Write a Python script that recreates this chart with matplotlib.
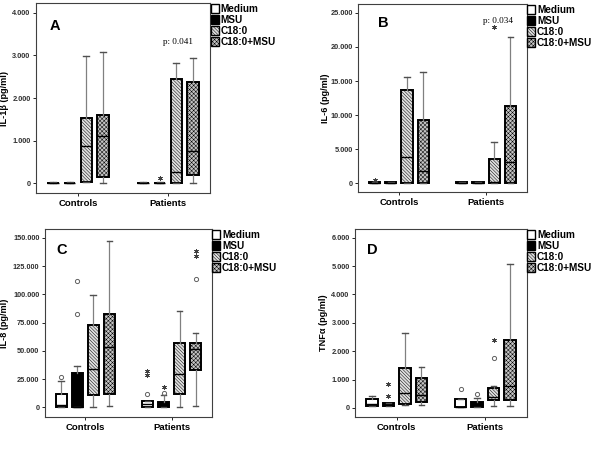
import matplotlib
matplotlib.use("Agg")
import matplotlib.pyplot as plt
import matplotlib.patches as mpatches
from matplotlib.ticker import FuncFormatter

plt.rcParams['font.family'] = ['Liberation Sans', 'DejaVu Sans']
plt.rcParams['hatch.linewidth'] = 0.35

# box order: Controls (Medium, MSU, C18:0, C18:0+MSU), Patients (same)
groups = ['Controls', 'Patients']
conditions = ['Medium', 'MSU', 'C18:0', 'C18:0+MSU']

# IL-1beta (pg/ml)
il1b_lo = [2, 5, 30, 15, 5, 5, 15, 15]
il1b_q1 = [5, 8, 30, 157, 8, 8, 15, 205]
il1b_med = [12, 12, 866, 1110, 12, 12, 260, 756]
il1b_q3 = [20, 20, 1530, 1600, 20, 20, 2450, 2370]
il1b_hi = [40, 25, 2980, 3070, 25, 25, 2820, 2937]
il1b_circles = [[], [], [], [], [], [], [], []]
il1b_stars = [[], [], [], [], [], [126], [], []]

# IL-6 (pg/ml)
il6_lo = [40, 40, 60, 60, 40, 40, 60, 60]
il6_q1 = [60, 60, 100, 100, 60, 60, 100, 100]
il6_med = [100, 100, 3810, 1860, 100, 100, 245, 3080]
il6_q3 = [150, 150, 13670, 9230, 150, 150, 3520, 11330]
il6_hi = [200, 200, 15620, 16260, 200, 200, 6100, 21480]
il6_circles = [[], [], [], [], [], [], [], []]
il6_stars = [[490], [], [], [], [], [], [22950], []]

# IL-8 (pg/ml)
il8_lo = [600, 600, 600, 1500, 600, 600, 600, 1200]
il8_q1 = [600, 600, 10900, 12100, 600, 600, 11500, 33000]
il8_med = [2000, 600, 33900, 53000, 2900, 2000, 30000, 51500]
il8_q3 = [11500, 30650, 72800, 82500, 5600, 5000, 56600, 56600]
il8_hi = [23300, 36250, 99300, 147300, 5600, 10900, 85200, 65400]
il8_circles = [[27100], [82500, 112000], [], [], [12100], [12400], [], [113500]]
il8_stars = [[], [], [], [], [28600, 32400], [17700], [], [133800, 138500]]

# TNFalpha (pg/ml)
tnf_lo = [80, 80, 95, 95, 35, 35, 60, 60]
tnf_q1 = [82, 80, 140, 200, 35, 35, 270, 270]
tnf_med = [120, 95, 530, 450, 40, 95, 390, 775]
tnf_q3 = [318, 175, 1410, 1060, 306, 210, 705, 2410]
tnf_hi = [410, 175, 2650, 1450, 306, 350, 765, 5070]
tnf_circles = [[], [], [], [], [660], [480], [1775], []]
tnf_stars = [[], [410, 850], [], [], [], [], [2390], []]

fills = ['white', 'black', '#e0e0e0', '#c4c4c4']
hatches = [None, None, '\\\\\\\\\\\\\\\\\\\\', 'xxxxxxxx']
offsets = [-0.28, -0.093, 0.093, 0.28]


def thousands(v, pos):
    return '{:,.0f}'.format(v).replace(',', '.')


def draw_panel(rect, lo, q1, med, q3, hi, circles, stars, ylim, ticks,
               ylabel, letter, letter_xy, ylab_x, pval=None):
    ax = fig.add_axes(rect)
    positions = [g + o for g in range(len(groups)) for o in offsets]
    stats = []
    for i in range(len(positions)):
        stats.append(dict(whislo=lo[i], q1=q1[i], med=med[i], q3=q3[i],
                          whishi=hi[i], fliers=circles[i]))
    bp = ax.bxp(stats, positions=positions, widths=0.13, capwidths=0.065,
                patch_artist=True,
                boxprops=dict(edgecolor='black', linewidth=1.4),
                whiskerprops=dict(color='#808080', linewidth=0.9),
                capprops=dict(color='#505050', linewidth=1.0),
                medianprops=dict(color='black', linewidth=1.0),
                flierprops=dict(marker='o', markersize=3, markerfacecolor='none',
                                markeredgecolor='#606060', markeredgewidth=0.7))
    for i, box in enumerate(bp['boxes']):
        c = i % 4
        box.set_facecolor(fills[c])
        if hatches[c]:
            box.set_hatch(hatches[c])
    # extreme values drawn as asterisks
    for i, pos in enumerate(positions):
        if stars[i]:
            ax.plot([pos] * len(stars[i]), stars[i], linestyle='none',
                    marker=(6, 2, 0), markersize=3.4, color='#404040',
                    markeredgewidth=0.55)

    ax.set_xlim(-0.467, 1.467)
    ax.set_ylim(*ylim)
    ax.set_yticks(ticks)
    ax.yaxis.set_major_formatter(FuncFormatter(thousands))
    ax.set_xticks([0, 1])
    ax.set_xticklabels(groups, fontsize=6.8, fontweight='bold')
    ax.tick_params(axis='y', labelsize=5.3, length=2.5, width=0.6, pad=1.5,
                   labelcolor='#303030')
    ax.tick_params(axis='x', length=2.5, width=0.6, pad=2)
    for lab in ax.get_yticklabels():
        lab.set_fontweight('bold')
    for sp in ax.spines.values():
        sp.set_linewidth(0.8)
        sp.set_color('#404040')
    ax.set_ylabel(ylabel, fontsize=6.6, fontweight='bold')
    ax.yaxis.set_label_coords(ylab_x, 0.5)
    ax.text(letter_xy[0], letter_xy[1], letter, transform=ax.transAxes,
            fontsize=10.5, fontweight='bold', va='baseline')
    if pval:
        ax.text(pval[0], pval[1], pval[2], family=['Liberation Serif'],
                fontsize=6.6, ha='center', va='center')

    handles = []
    for c in range(4):
        handles.append(mpatches.Patch(facecolor=fills[c], edgecolor='black',
                                      hatch=hatches[c], linewidth=1.0))
    ax.legend(handles, conditions, loc='upper left',
              bbox_to_anchor=(1.004, 0.995), frameon=False,
              prop=dict(size=7.2, weight='bold'), handlelength=0.8,
              handleheight=1.0, handletextpad=0.15, labelspacing=0.1,
              borderpad=0, borderaxespad=0)
    return ax


fig = plt.figure(figsize=(6, 4.5), dpi=100)

draw_panel([0.06, 0.571, 0.29, 0.422], il1b_lo, il1b_q1, il1b_med, il1b_q3,
           il1b_hi, il1b_circles, il1b_stars, (-227, 4227),
           [0, 1000, 2000, 3000, 4000], 'IL-1β (pg/ml)', 'A', (0.08, 0.86),
           -0.155, pval=(1.11, 3305, 'p: 0.041'))

draw_panel([0.597, 0.573, 0.281, 0.418], il6_lo, il6_q1, il6_med, il6_q3,
           il6_hi, il6_circles, il6_stars, (-1274, 26274),
           [0, 5000, 10000, 15000, 20000, 25000], 'IL-6 (pg/ml)', 'B',
           (0.12, 0.88), -0.166, pval=(1.14, 23800, 'p: 0.034'))

draw_panel([0.075, 0.073, 0.278, 0.418], il8_lo, il8_q1, il8_med, il8_q3,
           il8_hi, il8_circles, il8_stars, (-8580, 157700),
           [0, 25000, 50000, 75000, 100000, 125000, 150000], 'IL-8 (pg/ml)',
           'C', (0.07, 0.87), -0.216)

draw_panel([0.592, 0.073, 0.286, 0.418], tnf_lo, tnf_q1, tnf_med, tnf_q3,
           tnf_hi, tnf_circles, tnf_stars, (-328, 6307),
           [0, 1000, 2000, 3000, 4000, 5000, 6000], 'TNFα (pg/ml)', 'D',
           (0.07, 0.87), -0.157)

fig.savefig('out.png', dpi=100)
